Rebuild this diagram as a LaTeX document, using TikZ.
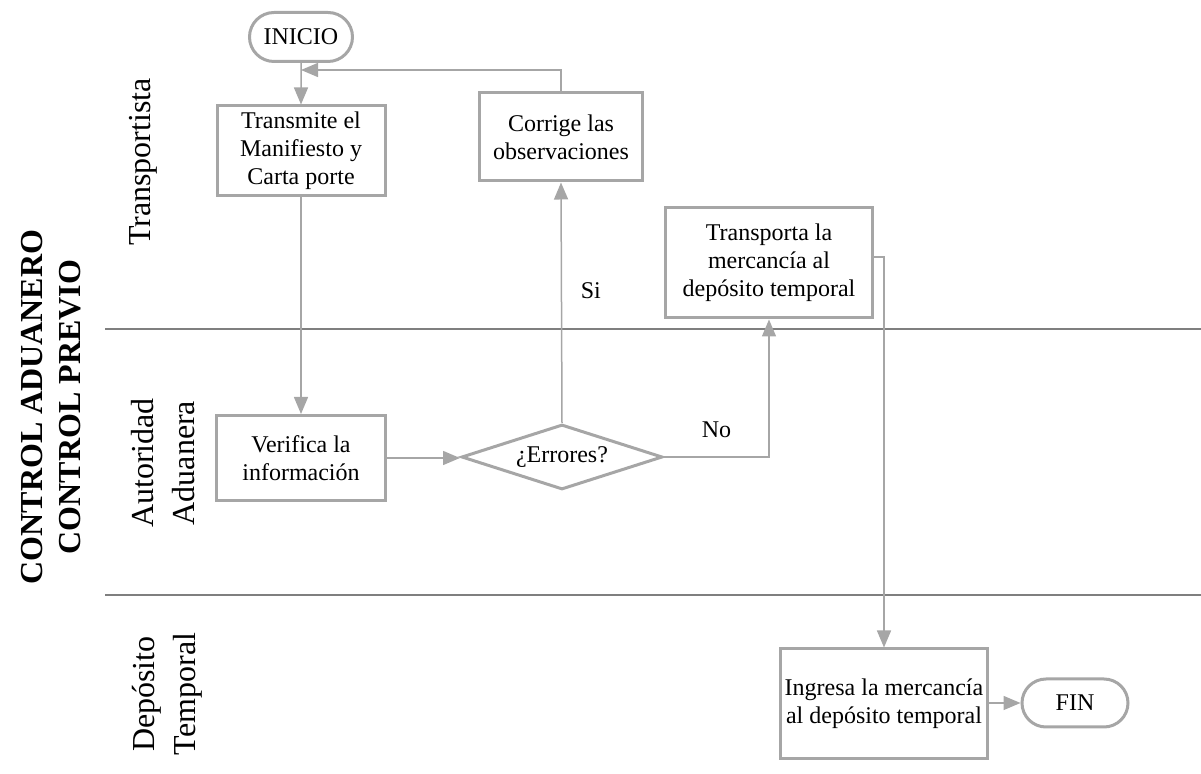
\documentclass[tikz,border=0pt]{standalone}
\usepackage{fontspec}
\setmainfont{Liberation Serif}
\usetikzlibrary{arrows.meta,shapes.geometric,shapes.misc}
\definecolor{boxgray}{HTML}{A6A6A6}
\definecolor{lanegray}{HTML}{7F7F7F}
\begin{document}
\begin{tikzpicture}[x=0.5pt,y=-0.5pt,
  proc/.style={draw=boxgray,line width=1.5pt,align=center,inner sep=0pt,
    font=\fontsize{12}{14}\selectfont},
  term/.style={draw=boxgray,line width=1.5pt,rounded rectangle,inner sep=0pt,
    font=\fontsize{12}{14}\selectfont},
  decision/.style={draw=boxgray,line width=1.5pt,diamond,aspect=3,inner sep=0pt,
    font=\fontsize{12}{14}\selectfont},
  flow/.style={draw=boxgray,line width=0.75pt,-{Triangle[length=8.5pt,width=7pt]}},
  lane/.style={rotate=90,align=center,font=\fontsize{16}{20.5}\selectfont}]
\useasboundingbox (0,0) rectangle (1201,774);

% swimlanes
\coordinate (l1a) at (105,329);
\coordinate (l1b) at (1201,329);
\coordinate (l2a) at (105,595);
\coordinate (l2b) at (1201,595);
\draw[lanegray,line width=1pt] (l1a) -- (l1b);
\draw[lanegray,line width=1pt] (l2a) -- (l2b);

\node[rotate=90,align=center,font=\fontsize{16}{19}\selectfont\bfseries] (title) at (51,407)
  {CONTROL ADUANERO\\CONTROL PREVIO};
\node[lane] (trans) at (143,162) {Transportista};
\node[lane] (auto) at (163,463) {Autoridad\\Aduanera};
\node[lane] (depo) at (167,694) {Depósito\\Temporal};

% steps
\node[term,minimum width=51.5pt,minimum height=24.5pt] (inicio) at (301,37) {INICIO};
\node[proc,minimum width=84pt,minimum height=45pt] (transmite) at (301,151)
  {Transmite el\\Manifiesto y\\Carta porte};
\node[proc,minimum width=81.5pt,minimum height=44pt] (corrige) at (561,137)
  {Corrige las\\observaciones};
\node[proc,minimum width=103.5pt,minimum height=55pt] (transporta) at (769,263)
  {Transporta la\\mercancía al\\depósito temporal};
\node[proc,minimum width=84.5pt,minimum height=42.5pt] (verifica) at (301,458)
  {Verifica la\\información};
\node[decision,minimum width=100.5pt,minimum height=32.5pt] (errores) at (562,457)
  {¿Errores?};
\node[proc,minimum width=103.5pt,minimum height=55pt] (ingresa) at (884,704)
  {Ingresa la mercancía\\al depósito temporal};
\node[term,minimum width=53pt,minimum height=24pt] (fin) at (1075,703) {FIN};

\coordinate (ret) at (301,70);

% connectors
\path[flow] (inicio) -- (transmite);
\path[flow] (transmite) -- (verifica);
\path[flow] (verifica.east) -- (verifica.east -| errores.west);
\path[flow] (errores.north) -- node[pos=0.55,right=6pt,font=\fontsize{12}{14}\selectfont] (si) {Si} (corrige.south);
\path[flow] (corrige.north) |- (ret);
\path[flow] (errores.east) -| node[pos=0.25,above=6pt,font=\fontsize{12}{14}\selectfont] (no) {No} (transporta.south);
\path[flow] ([yshift=3pt]transporta.east) -| (ingresa.north);
\path[flow] (ingresa.east |- fin.west) -- (fin.west);
\end{tikzpicture}
\end{document}
